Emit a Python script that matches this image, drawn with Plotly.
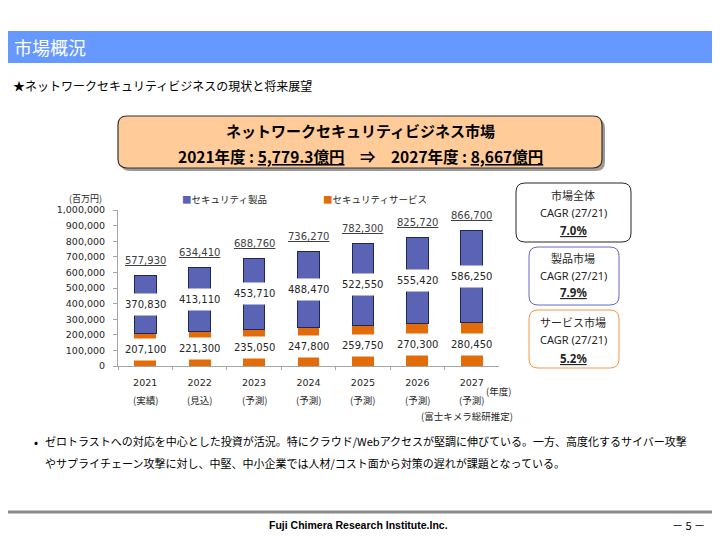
import plotly.graph_objects as go

# page is 720x540, but the body keeps an 8px margin, so the figure is 704x524 at (8, 8)
W, H = 704, 524
OFF = 8

# data
years = ["2021", "2022", "2023", "2024", "2025", "2026", "2027"]
year_notes = ["(実績)", "(見込)", "(予測)", "(予測)", "(予測)", "(予測)", "(予測)"]
product = [370830, 413110, 453710, 488470, 522550, 555420, 586250]
service = [207100, 221300, 235050, 247800, 259750, 270300, 280450]
total = [577930, 634410, 688760, 736270, 782300, 825720, 866700]
y_ticks = [0, 100000, 200000, 300000, 400000, 500000, 600000, 700000, 800000, 900000, 1000000]

cagr_titles = ["市場全体", "製品市場", "サービス市場"]
cagr_values = ["7.0%", "7.9%", "5.2%"]

JP = "Noto Sans CJK JP"
NUM = "DejaVu Sans"
BLUE = "#5B64B4"
ORANGE = "#E36C0A"


def X(x):
    return (x - OFF) / W


def Y(y):
    return 1 - (y - OFF) / H


def rrect(x0, y0, x1, y1, r):
    return (f"M {X(x0+r)},{Y(y0)} L {X(x1-r)},{Y(y0)} Q {X(x1)},{Y(y0)} {X(x1)},{Y(y0+r)} "
            f"L {X(x1)},{Y(y1-r)} Q {X(x1)},{Y(y1)} {X(x1-r)},{Y(y1)} "
            f"L {X(x0+r)},{Y(y1)} Q {X(x0)},{Y(y1)} {X(x0)},{Y(y1-r)} "
            f"L {X(x0)},{Y(y0+r)} Q {X(x0)},{Y(y0)} {X(x0+r)},{Y(y0)} Z")


def txt(x, y, text, size, family=JP, color="#262626", xanchor="center"):
    # text placed in page pixels
    return dict(x=X(x), y=Y(y), xref="paper", yref="paper", text=text, showarrow=False,
                xanchor=xanchor, yanchor="middle", font=dict(family=family, size=size, color=color))


fig = go.Figure()
fig.add_trace(go.Bar(x=years, y=service, name="セキュリティサービス", width=0.4,
                     marker=dict(color=ORANGE, line=dict(width=0))))
fig.add_trace(go.Bar(x=years, y=product, name="セキュリティ製品", width=0.4,
                     marker=dict(color=BLUE, line=dict(color="#1F2755", width=1))))

ann = []
# data labels with white boxes over the bars
for i in range(len(years)):
    ann.append(dict(x=i, y=service[i] / 2, xref="x", yref="y", text=f"{service[i]:,}",
                    showarrow=False, bgcolor="white", borderpad=5, xanchor="center", yanchor="middle",
                    font=dict(family=NUM, size=10, color="#262626")))
    ann.append(dict(x=i, y=service[i] + product[i] / 2, xref="x", yref="y", text=f"{product[i]:,}",
                    showarrow=False, bgcolor="white", borderpad=5, xanchor="center", yanchor="middle",
                    font=dict(family=NUM, size=10, color="#262626")))
    ann.append(dict(x=i, y=total[i], xref="x", yref="y", text=f"<u>{total[i]:,}</u>",
                    showarrow=False, yshift=15, xanchor="center", yanchor="middle",
                    font=dict(family=NUM, size=10, color="#404040")))
    ann.append(dict(x=i, y=Y(400), xref="x", yref="paper", text=year_notes[i],
                    showarrow=False, xanchor="center", yanchor="middle",
                    font=dict(family=JP, size=9.5, color="#262626")))

# legend drawn as text
ann.append(txt(180, 199, f"<span style='color:{BLUE}'>■</span>セキュリティ製品", 9.5, xanchor="left"))
ann.append(txt(321, 199, f"<span style='color:{ORANGE}'>■</span>セキュリティサービス", 9.5, xanchor="left"))
ann.append(txt(85, 198, "(百万円)", 9))
ann.append(txt(498, 391, "(年度)", 9.5))
ann.append(txt(467, 416, "(富士キメラ総研推定)", 9.5))

# header and texts
ann.append(txt(12, 47, "市場概況", 18, color="white", xanchor="left"))
ann.append(txt(11, 85, "★ネットワークセキュリティビジネスの現状と将来展望", 12, color="black", xanchor="left"))
ann.append(txt(360, 130, "<b>ネットワークセキュリティビジネス市場</b>", 15, color="black"))
ann.append(txt(360, 156, "<b>2021年度 : <u>5,779.3億円</u>　⇒　2027年度 : <u>8,667億円</u></b>", 15.5,
               color="black"))

# CAGR boxes
box_rows = [(573, 195, 213, 230), (573, 258, 275, 292), (573, 322, 340, 358)]
for k, (cx, y1, y2, y3) in enumerate(box_rows):
    ann.append(txt(cx, y1, cagr_titles[k], 11))
    ann.append(txt(cx, y2, "CAGR (27/21)", 11, family="Noto Sans"))
    ann.append(txt(cx, y3, f"<b><u>{cagr_values[k]}</u></b>", 11.5, family="Noto Sans"))

# bullet text
ann.append(txt(32, 441, "•", 12, color="black", xanchor="left"))
ann.append(txt(43, 441, "ゼロトラストへの対応を中心とした投資が活況。特にクラウド/Webアクセスが堅調に伸びている。一方、高度化するサイバー攻撃",
               11, color="black", xanchor="left"))
ann.append(txt(43, 463, "やサプライチェーン攻撃に対し、中堅、中小企業では人材/コスト面から対策の遅れが課題となっている。",
               11, color="black", xanchor="left"))

# footer
ann.append(txt(358, 525, "<b>Fuji Chimera Research Institute.Inc.</b>", 10.5, family="Liberation Sans",
               color="black"))
ann.append(txt(688, 525, "－ 5 －", 11, color="black"))

shapes = [
    dict(type="rect", xref="paper", yref="paper", x0=X(8), x1=X(712), y0=Y(63), y1=Y(31),
         fillcolor="#6699FF", line=dict(width=0)),
    dict(type="path", xref="paper", yref="paper", path=rrect(121, 119, 605, 171, 9),
         fillcolor="#9A9A9A", line=dict(width=0)),
    dict(type="path", xref="paper", yref="paper", path=rrect(118, 116, 602, 168, 9),
         fillcolor="#FFCC99", line=dict(color="#333333", width=1.2)),
    dict(type="path", xref="paper", yref="paper", path=rrect(516, 183, 631, 242, 9),
         fillcolor="white", line=dict(color="#262626", width=1)),
    dict(type="path", xref="paper", yref="paper", path=rrect(529, 247, 619, 305, 9),
         fillcolor="white", line=dict(color="#6666CC", width=1)),
    dict(type="path", xref="paper", yref="paper", path=rrect(529, 310, 619, 368, 9),
         fillcolor="white", line=dict(color="#F79646", width=1)),
    dict(type="line", xref="paper", yref="paper", x0=X(8), x1=X(712), y0=Y(512), y1=Y(512),
         line=dict(color="#8C8C8C", width=3)),
]

fig.update_layout(
    width=W, height=H,
    margin=dict(l=0, r=0, t=0, b=0, autoexpand=False),
    barmode="stack",
    showlegend=False,
    paper_bgcolor="white",
    plot_bgcolor="white",
    annotations=ann,
    shapes=shapes,
    xaxis=dict(domain=[X(118), X(499)], type="category", range=[-0.5, 6.5], showline=True,
               linecolor="#A6A6A6", ticks="outside", tickson="boundaries", ticklen=3,
               tickcolor="#A6A6A6", showgrid=False, ticklabelstandoff=8,
               tickfont=dict(family=NUM, size=9.5, color="#262626")),
    yaxis=dict(domain=[Y(366), Y(210)], range=[0, 1000000], tickvals=y_ticks, tickformat=",d",
               showline=True, linecolor="#A6A6A6", ticks="outside", ticklen=4, tickcolor="#A6A6A6",
               showgrid=False, zeroline=False, ticklabelstandoff=6,
               tickfont=dict(family=NUM, size=9.5, color="#262626")),
)

fig.write_html("out.html")
